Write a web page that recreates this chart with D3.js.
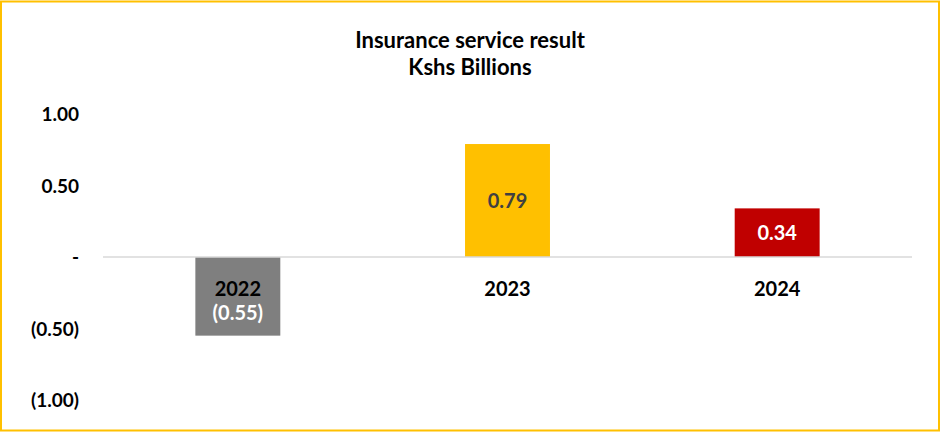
<!DOCTYPE html>
<html>
<head>
<meta charset="utf-8">
<script src="https://cdn.jsdelivr.net/npm/d3@7"></script>
<style>
  html, body { margin: 0; padding: 0; background: #fff; }
  svg { display: block; font-family: Lato, "Open Sans", sans-serif; }
</style>
</head>
<body>
<svg id="chart" width="940" height="432"></svg>
<script>
// Insurance service result, Kshs billions
const years = ["2022", "2023", "2024"];
const values = [-0.55, 0.79, 0.34];
const valueLabels = ["(0.55)", "0.79", "0.34"];
const barColors = ["#7f7f7f", "#ffc000", "#c00000"];
const valueLabelColors = ["#ffffff", "#404040", "#ffffff"];
const yTicks = [1.0, 0.5, 0, -0.5, -1.0];
const yTickLabels = ["1.00", "0.50", "-", "(0.50)", "(1.00)"];

const W = 940, H = 432;
const svg = d3.select("#chart");

// outer frame
svg.append("rect")
  .attr("x", 1).attr("y", 1.5)
  .attr("width", W - 2).attr("height", H - 3)
  .attr("fill", "#fff")
  .attr("stroke", "#ffc000").attr("stroke-width", 2);

// title
const title = svg.append("text")
  .attr("x", 470).attr("text-anchor", "middle")
  .attr("font-weight", 700).attr("font-size", 22).attr("fill", "#000");
title.append("tspan").attr("x", 470).attr("y", 48).text("Insurance service result");
title.append("tspan").attr("x", 470).attr("y", 75).text("Kshs Billions");

const plotLeft = 103, plotRight = 912;
const x = d3.scaleBand().domain(years).range([plotLeft, plotRight])
  .paddingInner(0.685).paddingOuter(0.3425);
const y = d3.scaleLinear().domain([-1, 1]).range([400, 114]);

// y axis labels (no line, no ticks)
const yAxis = d3.axisLeft(y).tickValues(yTicks)
  .tickFormat((d, i) => yTickLabels[i]).tickSize(0).tickPadding(0);
const gy = svg.append("g").attr("transform", "translate(79,0)").call(yAxis);
gy.select(".domain").remove();
gy.selectAll("text")
  .attr("font-family", "Lato, 'Open Sans', sans-serif")
  .attr("font-size", 19).attr("font-weight", 700).attr("fill", "#000")
  .attr("dy", "0.35em");

// bars
svg.append("g").selectAll("rect").data(values).join("rect")
  .attr("x", (d, i) => x(years[i]))
  .attr("width", x.bandwidth())
  .attr("y", d => y(Math.max(0, d)))
  .attr("height", d => Math.abs(y(d) - y(0)))
  .attr("fill", (d, i) => barColors[i]);

// zero baseline
svg.append("line")
  .attr("x1", plotLeft).attr("x2", plotRight)
  .attr("y1", y(0)).attr("y2", y(0))
  .attr("stroke", "#d9d9d9").attr("stroke-width", 1.5);

// category labels below the baseline
svg.append("g").selectAll("text").data(years).join("text")
  .attr("x", d => x(d) + x.bandwidth() / 2)
  .attr("y", y(0) + 32)
  .attr("dy", "0.35em")
  .attr("text-anchor", "middle")
  .attr("font-size", 20).attr("font-weight", 700).attr("fill", "#000")
  .text(d => d);

// value labels, centered in each bar
svg.append("g").selectAll("text").data(values).join("text")
  .attr("x", (d, i) => x(years[i]) + x.bandwidth() / 2)
  .attr("y", (d, i) => d >= 0 ? (y(d) + y(0)) / 2 : y(0) + 56)
  .attr("dy", "0.35em")
  .attr("text-anchor", "middle")
  .attr("font-size", 20).attr("font-weight", 700)
  .attr("fill", (d, i) => valueLabelColors[i])
  .text((d, i) => valueLabels[i]);
</script>
</body>
</html>
